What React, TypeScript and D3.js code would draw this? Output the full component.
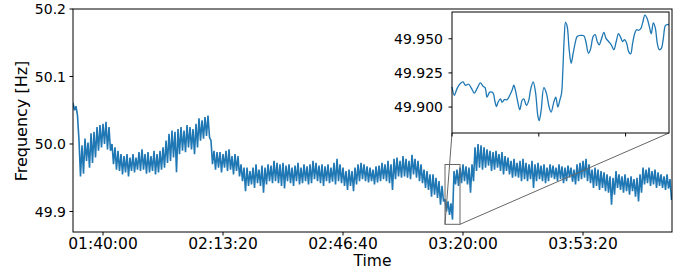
import * as d3 from 'd3'

// sampled grid frequency, read from the picture as deviation from 50 Hz in mHz
// upper and lower edges of the noise band, one value every 50 s, starting at 5500 s
const startSecond = 5500
const stepSeconds = 50
const upperMHz = [
  61, 56, 5, -2, 8, 2, 16, 18, 25, 28,
  30, 33, 25, 0, -5, -10, -15, -18, -15, -20,
  -15, -20, -12, -8, -15, -12, -18, -10, -15, -10,
  -5, 5, 15, 20, 18, 22, 25, 20, 28, 25,
  22, 30, 38, 35, 40, 42, 5, -10, -12, -12,
  -15, -10, -8, -18, -15, -18, -30, -35, -35, -40,
  -35, -30, -38, -32, -35, -30, -32, -25, -28, -30,
  -28, -32, -30, -35, -32, -28, -35, -30, -33, -30,
  -25, -28, -32, -30, -33, -30, -35, -28, -22, -30,
  -35, -40, -38, -40, -35, -30, -28, -30, -33, -35,
  -38, -33, -32, -28, -30, -25, -30, -22, -20, -25,
  -18, -22, -25, -16, -22, -25, -30, -38, -40, -45,
  -45, -50, -55, -62, -82, -85, -88, -40, -38, -35,
  -30, -33, -35, -30, -5, 0, -2, -5, -8, -10,
  -12, -10, -15, -12, -18, -20, -25, -22, -28, -25,
  -22, -28, -30, -25, -30, -28, -32, -30, -35, -30,
  -32, -35, -30, -33, -35, -32, -35, -38, -30, -28,
  -25, -22, -30, -38, -35, -38, -40, -42, -45, -48,
  -50, -40, -45, -48, -45, -50, -48, -52, -50, -45,
  -35, -38, -35, -40, -38, -42, -45, -48, -45, -52,
]
const lowerMHz = [
  50, 42, -48, -44, -25, -35, -28, -20, -10, -5,
  0, -8, -10, -30, -38, -40, -45, -42, -48, -40,
  -42, -38, -40, -38, -44, -42, -40, -45, -42, -38,
  -35, -28, -25, -20, -42, -15, -10, -12, -5, -8,
  -15, -5, 5, 8, 12, 10, -30, -38, -35, -42,
  -35, -40, -38, -45, -40, -48, -55, -70, -62, -60,
  -65, -58, -62, -72, -60, -55, -58, -55, -58, -62,
  -66, -55, -58, -62, -55, -60, -58, -55, -60, -58,
  -52, -55, -58, -62, -55, -58, -56, -60, -55, -58,
  -62, -68, -62, -70, -60, -55, -52, -55, -57, -55,
  -60, -57, -55, -52, -55, -58, -68, -52, -48, -50,
  -48, -50, -52, -45, -50, -55, -58, -65, -68, -78,
  -75, -80, -90, -85, -100, -105, -112, -60, -62, -58,
  -55, -60, -72, -55, -40, -35, -38, -35, -32, -40,
  -38, -35, -40, -45, -40, -45, -50, -48, -50, -55,
  -52, -55, -52, -65, -55, -52, -55, -58, -55, -50,
  -52, -55, -52, -58, -55, -50, -56, -60, -55, -52,
  -50, -55, -58, -65, -62, -68, -65, -70, -72, -90,
  -75, -65, -68, -72, -70, -75, -70, -78, -85, -72,
  -60, -58, -62, -60, -65, -62, -65, -68, -66, -83,
]

const xTickSeconds = [6000, 8000, 10000, 12000, 14000]
const xTickLabels = ['01:40:00', '02:13:20', '02:46:40', '03:20:00', '03:53:20']
const yTicks = [49.9, 50.0, 50.1, 50.2]

// zoomed window
const zoomSeconds = [11700, 11950]
const zoomFreq = [49.881, 49.9696]
const insetXTicks = [11700, 11800, 11900]
const insetYTicks = [49.9, 49.925, 49.95]
const insetSeconds = [
  11700, 11702.7, 11705.8, 11709.6, 11712.7, 11715.4, 11719.2, 11721.9, 11725.8, 11728.8,
  11732.7, 11735.8, 11738.1, 11740.4, 11743.5, 11747.3, 11749.2, 11751.2, 11753.1, 11755.8,
  11757.7, 11760.4, 11763.5, 11766.5, 11769.2, 11771.2, 11773.5, 11775.8, 11778.1, 11780.8,
  11782.7, 11785.8, 11788.5, 11790.4, 11793.5, 11796.2, 11798.8, 11800.4, 11802.7, 11805.8,
  11808.8, 11811.9, 11814.2, 11817.3, 11819.6, 11821.9, 11824.2, 11826.2, 11827.7, 11829.2,
  11830.8, 11832.7, 11835, 11837.3, 11839.6, 11841.9, 11844.2, 11848.1, 11851.9, 11854.2,
  11857.3, 11859.6, 11862.7, 11865, 11867.3, 11869.6, 11871.9, 11875, 11877.3, 11880.4,
  11883.5, 11886.5, 11889.2, 11891.9, 11894.2, 11896.5, 11898.8, 11901.2, 11903.5, 11905.8,
  11908.1, 11910.4, 11912.7, 11915, 11917.3, 11919.6, 11922.3, 11925, 11927.7, 11929.6,
  11931.9, 11934.2, 11936.5, 11938.8, 11941.2, 11943.5, 11945.8, 11948.1, 11950,
]
const insetMHz = [
  -85.3, -91.4, -86.5, -82.8, -81.6, -84, -83.3, -85.7, -89.7, -86.5,
  -82.3, -84.8, -85.7, -92.7, -89, -89.7, -95, -99.6, -96.4, -94,
  -96.4, -94.6, -94.6, -91.4, -87.7, -84, -89, -96.4, -102, -95,
  -94, -98.8, -95, -87.7, -81.6, -89, -106, -110, -102.5, -85.7,
  -90, -100, -103.7, -96.4, -92.7, -100, -95, -90, -73, -50.7,
  -38, -41, -58, -68, -60.6, -53.2, -48.3, -47.5, -47.8, -52,
  -60.6, -57.6, -48.3, -47, -52, -54.4, -50.7, -45.3, -49.5, -52,
  -54.4, -58, -52, -46.3, -48.8, -52, -50.7, -53.2, -59.4, -61,
  -53.2, -46.3, -43.3, -43.8, -42.8, -38.4, -32.7, -35.5, -42, -46.3,
  -38.4, -42, -53.2, -58, -57, -49.5, -40.4, -39.6, -39.6,
]

const W = 686
const H = 271
const plot = { left: 73, right: 672, top: 9, bottom: 232 }
const inset = { left: 452, right: 669, top: 12, bottom: 133 }
const blue = '#1f77b4'
const font = 'DejaVu Sans'
const tickLen = 3.5

export default function App() {
  const x = d3.scaleLinear().domain([5500, 15483]).range([plot.left, plot.right])
  const y = d3.scaleLinear().domain([49.8696, 50.2]).range([plot.bottom, plot.top])

  const series: [number, number][] = []
  upperMHz.forEach((u, i) => {
    series.push([startSecond + i * stepSeconds, 50 + u / 1000])
    series.push([startSecond + i * stepSeconds + stepSeconds / 2, 50 + lowerMHz[i] / 1000])
  })
  const mainLine = d3
    .line<[number, number]>()
    .x((d) => x(d[0]))
    .y((d) => y(d[1]))

  const ix = d3.scaleLinear().domain(zoomSeconds).range([inset.left, inset.right])
  const iy = d3.scaleLinear().domain(zoomFreq).range([inset.bottom, inset.top])
  const insetLine = d3
    .line<number>()
    .x((_, i) => ix(insetSeconds[i]))
    .y((d) => iy(50 + d / 1000))
    .curve(d3.curveCatmullRom)

  const rx0 = x(zoomSeconds[0])
  const rx1 = x(zoomSeconds[1])
  const ry0 = y(zoomFreq[1])
  const ry1 = y(zoomFreq[0])

  return (
    <svg
      width={W}
      height={H}
      style={{ position: 'absolute', left: 0, top: 0, background: 'white' }}
      fontFamily={font}
    >
      <defs>
        <clipPath id="plotClip">
          <rect x={plot.left} y={plot.top} width={plot.right - plot.left} height={plot.bottom - plot.top} />
        </clipPath>
      </defs>

      {/* main series */}
      <path
        d={mainLine(series) ?? ''}
        fill="none"
        stroke={blue}
        strokeWidth={1.6}
        strokeLinejoin="bevel"
        clipPath="url(#plotClip)"
      />

      {/* zoom marker and connectors */}
      <rect x={rx0} y={ry0} width={rx1 - rx0} height={ry1 - ry0} fill="none" stroke="#666" strokeWidth={1} />
      <line x1={rx0} y1={ry1} x2={inset.left} y2={inset.bottom} stroke="#666" strokeWidth={1} />
      <line x1={rx1} y1={ry1} x2={inset.right} y2={inset.bottom} stroke="#666" strokeWidth={1} />

      {/* main frame */}
      <rect
        x={plot.left}
        y={plot.top}
        width={plot.right - plot.left}
        height={plot.bottom - plot.top}
        fill="none"
        stroke="black"
        strokeWidth={1}
      />

      {/* y axis */}
      {yTicks.map((t) => (
        <g key={t}>
          <line x1={plot.left - tickLen} x2={plot.left} y1={y(t)} y2={y(t)} stroke="black" />
          <text x={plot.left - 7} y={y(t)} dy="0.36em" textAnchor="end" fontSize={14}>
            {t.toFixed(1)}
          </text>
        </g>
      ))}
      <text transform={`translate(27,121) rotate(-90)`} textAnchor="middle" fontSize={16}>
        Frequency [Hz]
      </text>

      {/* x axis */}
      {xTickSeconds.map((t, i) => (
        <g key={t}>
          <line x1={x(t)} x2={x(t)} y1={plot.bottom} y2={plot.bottom + tickLen} stroke="black" />
          <text x={x(t)} y={248.5} textAnchor="middle" fontSize={15.5}>
            {xTickLabels[i]}
          </text>
        </g>
      ))}
      <text x={(plot.left + plot.right) / 2} y={266} textAnchor="middle" fontSize={15.5}>
        Time
      </text>

      {/* inset */}
      <rect
        x={inset.left}
        y={inset.top}
        width={inset.right - inset.left}
        height={inset.bottom - inset.top}
        fill="white"
      />
      <path d={insetLine(insetMHz) ?? ''} fill="none" stroke={blue} strokeWidth={1.3} />
      <rect
        x={inset.left}
        y={inset.top}
        width={inset.right - inset.left}
        height={inset.bottom - inset.top}
        fill="none"
        stroke="black"
        strokeWidth={1}
      />
      {insetYTicks.map((t) => (
        <g key={t}>
          <line x1={inset.left - tickLen} x2={inset.left} y1={iy(t)} y2={iy(t)} stroke="black" />
          <text x={inset.left - 9} y={iy(t)} dy="0.36em" textAnchor="end" fontSize={14}>
            {t.toFixed(3)}
          </text>
        </g>
      ))}
      {insetXTicks.map((t) => (
        <line key={t} x1={ix(t)} x2={ix(t)} y1={inset.bottom} y2={inset.bottom + tickLen} stroke="black" />
      ))}
    </svg>
  )
}
